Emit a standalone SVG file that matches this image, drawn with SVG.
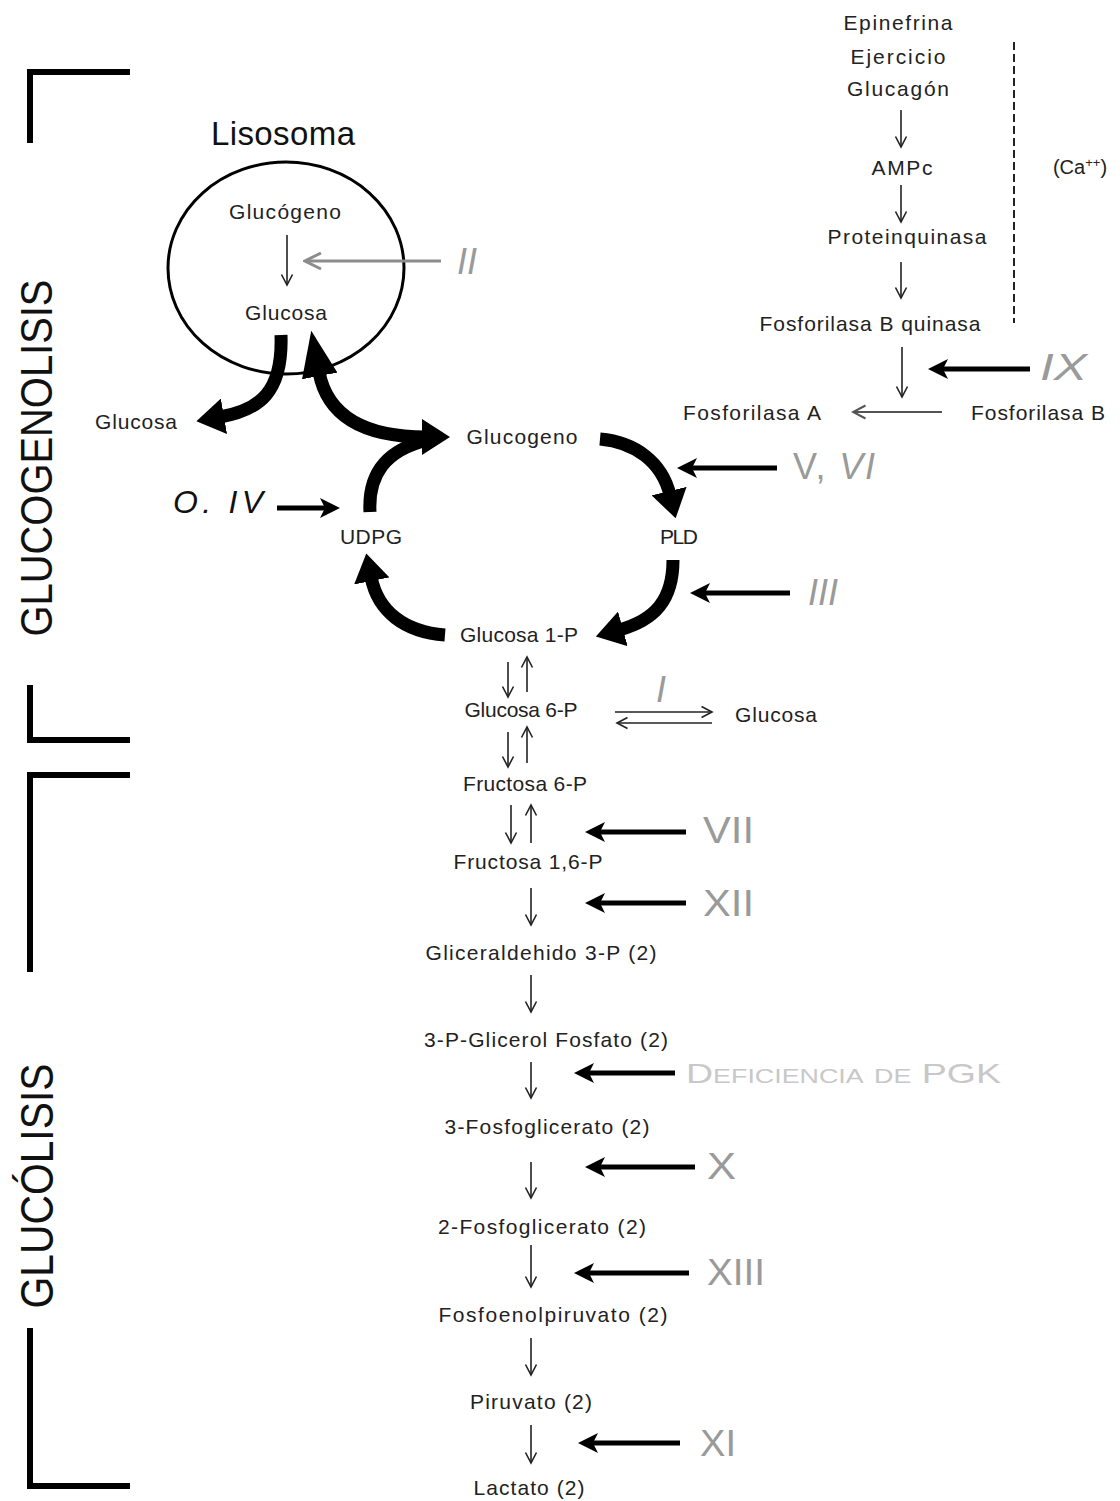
<svg xmlns="http://www.w3.org/2000/svg" width="1120" height="1501" viewBox="0 0 1120 1501">
<defs>
<style>
.lbl{font-family:"Liberation Sans",Arial,sans-serif;font-size:21px;fill:#222;text-anchor:middle}
.num{font-family:"Liberation Sans",Arial,sans-serif;font-size:36px;fill:#9a9a9a}
.it{font-style:italic}
.ttl{font-family:"Liberation Sans",Arial,sans-serif;fill:#111;text-anchor:middle}
.thin{stroke:#222;stroke-width:1.6;fill:none;marker-end:url(#ah)}
.thick{stroke:#000;stroke-width:5;fill:none;marker-end:url(#med)}
.big{stroke:#000;stroke-width:13;fill:none}
.br{stroke:#000;stroke-width:6;fill:none}
</style>
<marker id="ah" markerUnits="userSpaceOnUse" viewBox="0 0 14 14" markerWidth="14" markerHeight="14" refX="12" refY="7" orient="auto"><path d="M1.5,1.5 L12,7 L1.5,12.5" fill="none" stroke="#222" stroke-width="1.6"/></marker>
<marker id="ahg" markerUnits="userSpaceOnUse" viewBox="0 0 20 20" markerWidth="20" markerHeight="20" refX="18" refY="10" orient="auto"><path d="M2,2 L18,10 L2,18" fill="none" stroke="#8c8c8c" stroke-width="3"/></marker>
<marker id="ahd" markerUnits="userSpaceOnUse" viewBox="0 0 16 16" markerWidth="16" markerHeight="16" refX="14" refY="8" orient="auto"><path d="M1.5,1.5 L14,8 L1.5,14.5" fill="none" stroke="#555" stroke-width="2"/></marker>
<marker id="med" markerUnits="userSpaceOnUse" viewBox="0 0 20 20" markerWidth="20" markerHeight="20" refX="5" refY="10" orient="auto"><path d="M0,0 L20,10 L0,20 L5,10 z" fill="#000"/></marker>
<marker id="bh" markerUnits="userSpaceOnUse" viewBox="0 0 28 36" markerWidth="28" markerHeight="36" refX="4" refY="18" orient="auto"><path d="M0,0 L28,18 L0,36 z" fill="#000"/></marker>
<marker id="bhl" markerUnits="userSpaceOnUse" viewBox="0 0 46 36" markerWidth="46" markerHeight="36" refX="4" refY="18" orient="auto-start-reverse"><path d="M0,0 L46,18 L0,36 z" fill="#000"/></marker>
</defs>
<rect width="1120" height="1501" fill="#fff"/>

<g id="brackets">
<path class="br" d="M130,72 H30 V143"/>
<path class="br" d="M30,685 V740 H130"/>
<path class="br" d="M130,775 H30 V972"/>
<path class="br" d="M30,1328 V1486 H130"/>
<text class="ttl" style="font-size:44px" textLength="357" lengthAdjust="spacingAndGlyphs" transform="translate(52,458) rotate(-90)">GLUCOGENOLISIS</text>
<text class="ttl" style="font-size:46px" textLength="245" lengthAdjust="spacingAndGlyphs" transform="translate(53,1186) rotate(-90)">GLUCÓLISIS</text>
</g>

<g id="lisosoma">
<ellipse cx="286" cy="268" rx="118" ry="106" fill="none" stroke="#000" stroke-width="3"/>
<text class="lbl" x="283" y="145" style="font-size:33px;fill:#111" textLength="144">Lisosoma</text>
</g>

<g id="n-glucogeno-lis"><text class="lbl" x="285" y="219" textLength="112">Glucógeno</text></g>
<g id="n-glucosa-lis"><text class="lbl" x="286" y="320" textLength="82">Glucosa</text></g>
<g id="n-glucosa-left"><text class="lbl" x="136" y="429" textLength="82">Glucosa</text></g>
<g id="n-glucogeno"><text class="lbl" x="522" y="444" textLength="111">Glucogeno</text></g>
<g id="n-udpg"><text class="lbl" x="371" y="544" textLength="62">UDPG</text></g>
<g id="n-pld"><text class="lbl" x="679" y="544" textLength="38">PLD</text></g>
<g id="n-g1p"><text class="lbl" x="519" y="642" textLength="118">Glucosa 1-P</text></g>
<g id="n-g6p"><text class="lbl" x="521" y="717" textLength="113">Glucosa 6-P</text></g>
<g id="n-glucosa-right"><text class="lbl" x="776" y="722" textLength="82">Glucosa</text></g>
<g id="n-f6p"><text class="lbl" x="525" y="791" textLength="124">Fructosa 6-P</text></g>
<g id="n-f16p"><text class="lbl" x="528" y="869" textLength="149">Fructosa 1,6-P</text></g>
<g id="n-g3p"><text class="lbl" x="541" y="960" textLength="231">Gliceraldehido 3-P (2)</text></g>
<g id="n-3pgf"><text class="lbl" x="546" y="1047" textLength="244">3-P-Glicerol Fosfato (2)</text></g>
<g id="n-3fg"><text class="lbl" x="547" y="1134" textLength="205">3-Fosfoglicerato (2)</text></g>
<g id="n-2fg"><text class="lbl" x="542" y="1234" textLength="208">2-Fosfoglicerato (2)</text></g>
<g id="n-pep"><text class="lbl" x="553" y="1322" textLength="229">Fosfoenolpiruvato (2)</text></g>
<g id="n-piruvato"><text class="lbl" x="531" y="1409" textLength="122">Piruvato (2)</text></g>
<g id="n-lactato"><text class="lbl" x="529" y="1495" textLength="111">Lactato (2)</text></g>

<g id="n-epinefrina"><text class="lbl" x="898" y="30" textLength="109">Epinefrina</text></g>
<g id="n-ejercicio"><text class="lbl" x="898" y="64" textLength="95">Ejercicio</text></g>
<g id="n-glucagon"><text class="lbl" x="898" y="96" textLength="102">Glucagón</text></g>
<g id="n-ampc"><text class="lbl" x="902" y="175" textLength="61">AMPc</text></g>
<g id="n-proteinquinasa"><text class="lbl" x="907" y="244" textLength="159">Proteinquinasa</text></g>
<g id="n-fbq"><text class="lbl" x="870" y="331" textLength="221">Fosforilasa B quinasa</text></g>
<g id="n-ca"><text class="lbl" x="1080" y="174" style="font-size:20px">(Ca<tspan style="font-size:13px" dy="-7">++</tspan><tspan dy="7">)</tspan></text></g>
<g id="n-fosa"><text class="lbl" x="752" y="420" textLength="138">Fosforilasa A</text></g>
<g id="n-fosb"><text class="lbl" x="1038" y="420" textLength="134">Fosforilasa B</text></g>

<g id="labels">
<text class="num it" x="457" y="274">II</text>
<text class="num" x="793" y="479" textLength="82">V, <tspan class="it">VI</tspan></text>
<text class="num it" x="808" y="605">III</text>
<text class="num it" x="656" y="702">I</text>
<text class="num it" x="1040" y="380" textLength="47" lengthAdjust="spacingAndGlyphs">IX</text>
<text class="num" x="703" y="843" textLength="51" lengthAdjust="spacingAndGlyphs">VII</text>
<text class="num" x="703" y="916" textLength="51" lengthAdjust="spacingAndGlyphs">XII</text>
<text class="num" x="707" y="1179" textLength="29" lengthAdjust="spacingAndGlyphs">X</text>
<text class="num" x="707" y="1285" textLength="58" lengthAdjust="spacingAndGlyphs">XIII</text>
<text class="num" x="700" y="1456" textLength="36" lengthAdjust="spacingAndGlyphs">XI</text>
<text class="num" x="686" y="1083" style="font-size:28px;fill:#c8c8c8;font-variant:small-caps" textLength="315" lengthAdjust="spacingAndGlyphs">Deficiencia de PGK</text>
<text x="173" y="513" font-family="Liberation Sans, Arial, sans-serif" font-size="32" font-style="italic" fill="#111" textLength="90">O. IV</text>
</g>

<g id="connectors">
<line x1="1014" y1="42" x2="1014" y2="323" stroke="#222" stroke-width="2" stroke-dasharray="8 4"/>
<path class="thin" d="M287,235 V285"/>
<path d="M441,261 H305" stroke="#8c8c8c" stroke-width="3" fill="none" marker-end="url(#ahg)"/>
<path class="thin" d="M901,110 V147"/>
<path class="thin" d="M901,185 V222"/>
<path class="thin" d="M901,262 V298"/>
<path class="thin" d="M902,347 V397"/>
<path d="M942,412 H853" stroke="#555" stroke-width="2" fill="none" marker-end="url(#ahd)"/>
<path class="thick" d="M1030,369 H943"/>
<path class="thick" d="M777,468 H692"/>
<path class="thick" d="M790,593 H705"/>
<path class="thick" d="M277,508 H325"/>
<path class="thick" d="M686,832 H600"/>
<path class="thick" d="M686,903 H600"/>
<path class="thick" d="M675,1073 H589"/>
<path class="thick" d="M695,1167 H600"/>
<path class="thick" d="M689,1273 H589"/>
<path class="thick" d="M680,1443 H593"/>

<path class="big" d="M281,335 C283,392 260,410 220,417" marker-end="url(#bh)"/>
<path class="big" d="M319,372 C328,420 370,437 426,437" marker-start="url(#bhl)" marker-end="url(#bh)"/>
<path class="big" d="M370,512 C368,475 385,450 428,440"/>
<path class="big" d="M600,439 C635,442 662,462 670,495" marker-end="url(#bh)"/>
<path class="big" d="M673,560 C673,600 655,620 619,630" marker-end="url(#bh)"/>
<path class="big" d="M445,635 C405,632 378,612 371,577" marker-end="url(#bh)"/>

<path class="thin" d="M508,662 V697"/>
<path class="thin" d="M527,692 V657"/>
<path class="thin" d="M508,732 V767"/>
<path class="thin" d="M527,763 V727"/>
<path class="thin" d="M511,805 V843"/>
<path class="thin" d="M531,843 V805"/>
<path class="thin" d="M615,712 H712"/>
<path class="thin" d="M712,723 H617"/>
<path class="thin" d="M531,888 V925"/>
<path class="thin" d="M531,975 V1012"/>
<path class="thin" d="M531,1062 V1098"/>
<path class="thin" d="M531,1162 V1198"/>
<path class="thin" d="M531,1245 V1287"/>
<path class="thin" d="M531,1338 V1375"/>
<path class="thin" d="M531,1425 V1463"/>
</g>
</svg>
